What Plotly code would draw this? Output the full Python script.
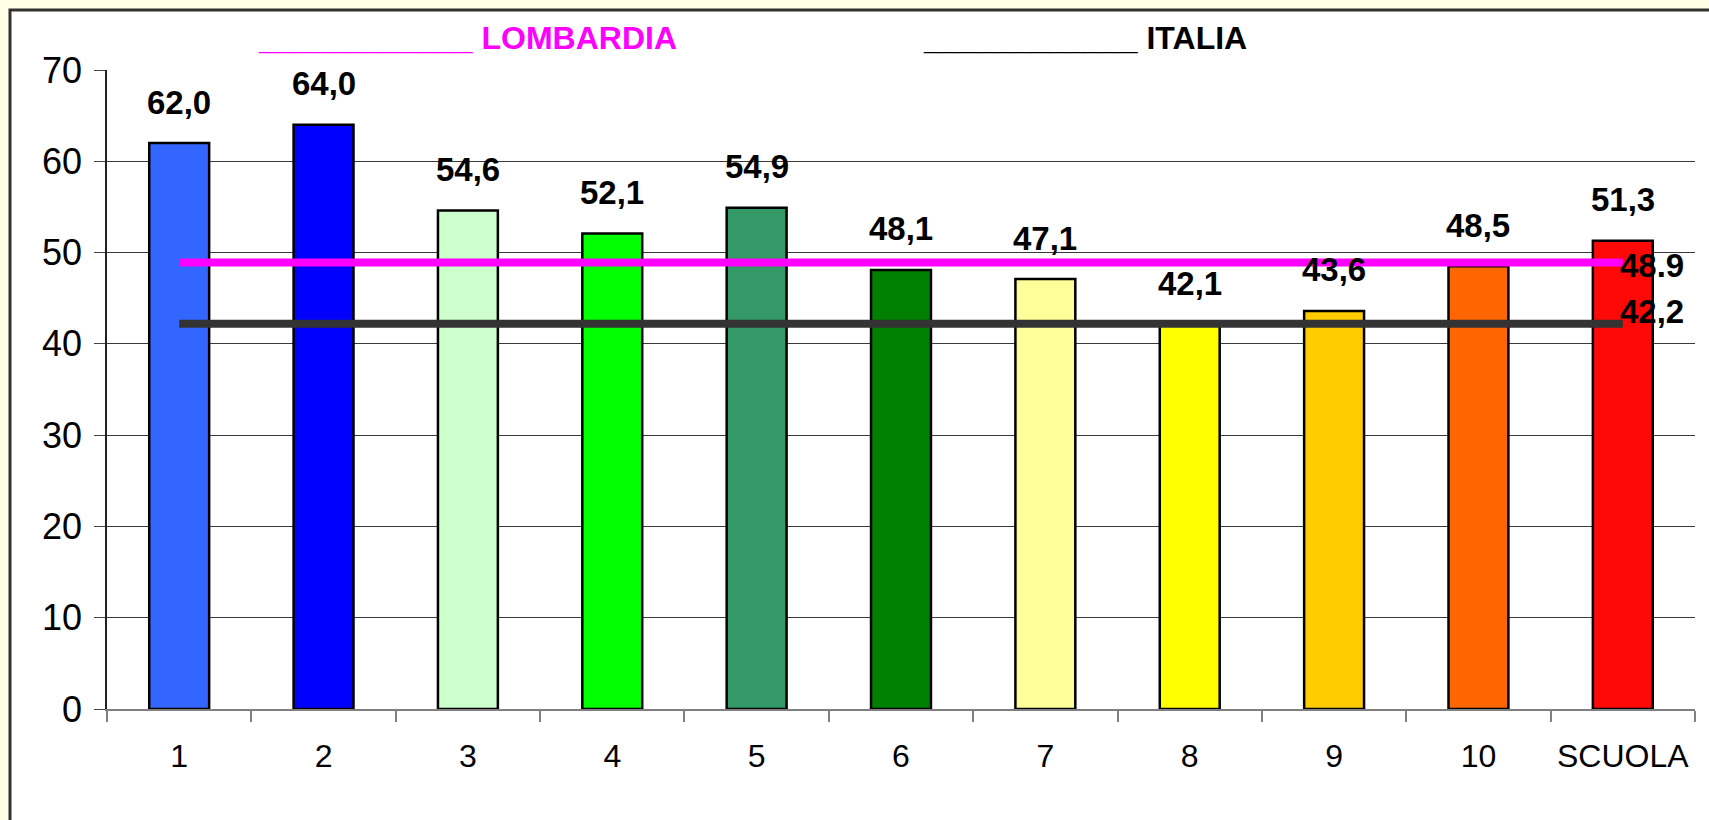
import plotly.graph_objects as go

categories = ["1", "2", "3", "4", "5", "6", "7", "8", "9", "10", "SCUOLA"]
values = [62.0, 64.0, 54.6, 52.1, 54.9, 48.1, 47.1, 42.1, 43.6, 48.5, 51.3]
value_labels = ["62,0", "64,0", "54,6", "52,1", "54,9", "48,1", "47,1", "42,1", "43,6", "48,5", "51,3"]
bar_colors = ["#3366FF", "#0000FF", "#CCFFCC", "#00FF00", "#339966", "#008000",
              "#FFFF99", "#FFFF00", "#FFCC00", "#FF6600", "#FF0808"]
lombardia = 48.9
lombardia_label = "48.9"
italia = 42.2
italia_label = "42,2"
y_ticks = [0, 10, 20, 30, 40, 50, 60, 70]

W, H = 1709, 820
L, R, T, B = 107, 14, 70, 111
pw, ph = W - L - R, H - T - B


def px(xp):
    return (xp - L) / pw


def py(yp):
    return (H - B - yp) / ph


FONT = "Liberation Sans, Arial, sans-serif"

fig = go.Figure()
fig.add_trace(go.Bar(
    x=categories, y=values, width=0.415,
    marker=dict(color=bar_colors, line=dict(color="black", width=2.5)),
    hoverinfo="x+y", showlegend=False,
))
fig.add_trace(go.Scatter(
    x=[categories[0], categories[-1]], y=[lombardia, lombardia], mode="lines",
    line=dict(color="#FF00FF", width=8), showlegend=False,
))
fig.add_trace(go.Scatter(
    x=[categories[0], categories[-1]], y=[italia, italia], mode="lines",
    line=dict(color="#333333", width=8), showlegend=False,
))

bold = dict(family=FONT, size=33, color="black", weight="bold")
annotations = []
for i, (v, t) in enumerate(zip(values, value_labels)):
    annotations.append(dict(x=i, y=v, text=t, showarrow=False, yshift=41, font=bold))
last = len(categories) - 1
annotations.append(dict(x=last, y=lombardia, text=lombardia_label, showarrow=False,
                        xanchor="left", xshift=-5, yshift=-3, font=bold))
annotations.append(dict(x=last, y=italia, text=italia_label, showarrow=False,
                        xanchor="left", xshift=-5, yshift=12, font=bold))
annotations.append(dict(xref="paper", yref="paper", x=px(256), y=py(38), xanchor="left",
                        yanchor="middle", text="____________ LOMBARDIA", showarrow=False,
                        font=dict(family=FONT, size=32, color="#FF00FF", weight="bold")))
annotations.append(dict(xref="paper", yref="paper", x=px(921), y=py(38), xanchor="left",
                        yanchor="middle", text="____________ ITALIA", showarrow=False,
                        font=dict(family=FONT, size=32, color="black", weight="bold")))

fig.update_layout(
    width=W, height=H,
    margin=dict(l=L, r=R, t=T, b=B, autoexpand=False),
    paper_bgcolor="#FFFFE3",
    plot_bgcolor="white",
    annotations=annotations,
    shapes=[dict(type="rect", xref="paper", yref="paper", x0=px(10), x1=px(1760),
                 y0=py(880), y1=py(10), fillcolor="white",
                 line=dict(color="#333333", width=3), layer="below")],
    xaxis=dict(
        type="category", showgrid=False, showline=True, linecolor="#808080", linewidth=2,
        ticks="outside", tickson="boundaries", ticklen=11, tickcolor="#808080", tickwidth=2,
        tickfont=dict(family=FONT, size=32, color="black"), ticklabelstandoff=18,
        tickangle=0, automargin=False,
        range=[-0.5, len(categories) - 0.5],
    ),
    yaxis=dict(
        range=[0, 70], tickvals=y_ticks, showgrid=True, gridcolor="#3a3a3a", gridwidth=1.2,
        showline=True, linecolor="#222222", linewidth=1.5, zeroline=False,
        ticks="outside", ticklen=11, tickcolor="#444444", automargin=False,
        tickfont=dict(family=FONT, size=36, color="black"), ticklabelstandoff=5,
    ),
)

fig.write_html("out.html", config={"displayModeBar": False},
               post_script="document.body.style.margin='0';")
